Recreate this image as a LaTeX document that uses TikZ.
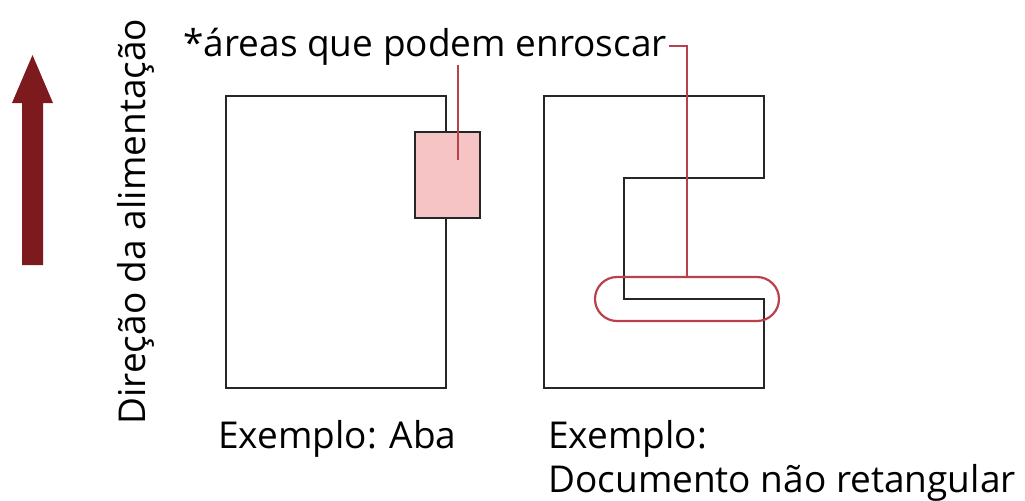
\documentclass[tikz,border=0pt]{standalone}
\usepackage{fontspec}
\setmainfont{Open Sans}
\usepackage{xcolor}
\usetikzlibrary{shapes.misc, positioning}

\definecolor{feedred}{HTML}{7D1A1D}
\definecolor{markred}{HTML}{B8414B}
\definecolor{tabpink}{HTML}{F7C4C6}

\begin{document}
\begin{tikzpicture}[
    x=0.5pt, y=-0.5pt,
    caption/.style={
        inner sep=0pt,
        anchor=base west,
        font=\fontsize{18.5}{22}\selectfont
    },
    outline/.style={draw=black!85, line width=1.2pt},
    leader/.style={draw=markred, line width=1.1pt}
]
\useasboundingbox (0,0) rectangle (1025,500);

% feed direction
\fill[feedred] (22,265) -- (43,265) -- (43,103) -- (53,103) -- (32.5,55) -- (12,103) -- (22,103) -- cycle;
\node (feed) [caption, rotate=90] at (145,425) {Direção da alimentação};

% example with tab
\draw[outline] (446,132) -- (446,96) -- (226,96) -- (226,388) -- (446,388) -- (446,218);
\node (tab) [outline, fill=tabpink, minimum width=32.5pt, minimum height=43pt, inner sep=0pt] at (447.5,175) {};

% example not rectangular
\draw[outline] (544,96) -- (764,96) -- (764,178) -- (624,178) -- (624,299) -- (764,299) -- (764,388) -- (544,388) -- cycle;
\node (snag) [rounded rectangle, leader, minimum width=92pt, minimum height=22pt, inner sep=0pt] at (687,299) {};

% labels
\node (areas) [caption] at (183,56) {*áreas que podem enroscar};
\node (aba) [caption] at (218,448) {Exemplo: Aba};
\node (irreg) [caption] at (548,448) {Exemplo:};
\node (irreg2) [caption] at (548,492) {Documento não retangular};

\coordinate (tabmark) at (458,160);
\coordinate (areasmark) at (458,65);
\path [leader] (areasmark) -- (tabmark);
\path [leader] ([xshift=1pt]areas.east) -| (snag.north);

\end{tikzpicture}
\end{document}
